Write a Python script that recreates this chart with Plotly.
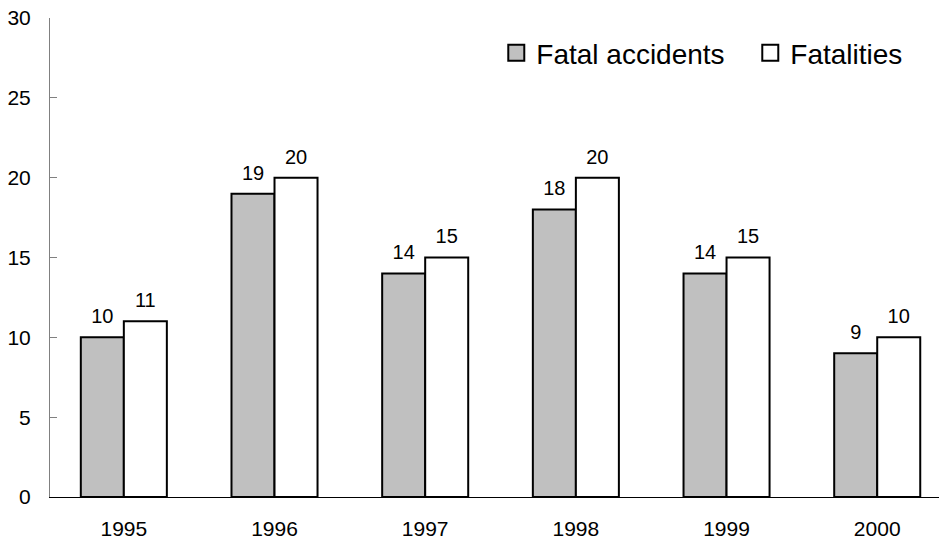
import plotly.graph_objects as go

years = ["1995", "1996", "1997", "1998", "1999", "2000"]
fatal_accidents = [10, 19, 14, 18, 14, 9]
fatalities = [11, 20, 15, 20, 15, 10]
y_ticks = [0, 5, 10, 15, 20, 25, 30]

font_name = "Liberation Sans, Arial, sans-serif"
series = [("Fatal accidents", fatal_accidents, "#c0c0c0", "a"),
          ("Fatalities", fatalities, "white", "b")]

fig = go.Figure()

for name, vals, col, grp in series:
    fig.add_trace(go.Bar(x=years, y=vals, name=name, offsetgroup=grp, alignmentgroup="g",
                         marker=dict(color=col, line=dict(color="black", width=2)),
                         showlegend=False))

# value labels sitting above the bars
for name, vals, col, grp in series:
    fig.add_trace(go.Scatter(x=years, y=vals, mode="markers+text", text=vals,
                             textposition="top center", offsetgroup=grp, alignmentgroup="g",
                             marker=dict(size=13, opacity=0), cliponaxis=False,
                             textfont=dict(size=20, color="black"), showlegend=False,
                             hoverinfo="skip"))

# legend entries with bigger square symbols
for name, vals, col, grp in series:
    fig.add_trace(go.Scatter(x=[None], y=[None], mode="markers", name=name,
                             offsetgroup=grp, alignmentgroup="g",
                             marker=dict(symbol="square", size=18, color=col,
                                         line=dict(color="black", width=2))))

fig.update_xaxes(showline=True, linewidth=1, linecolor="black", ticks="outside", ticklen=13,
                 tickcolor="rgba(0,0,0,0)", tickfont=dict(size=21, color="black"),
                 range=[-0.49, 5.41], showgrid=False)
fig.update_yaxes(range=[0, 30], tickvals=y_ticks, showline=True, linewidth=1, linecolor="#808080",
                 ticks="inside", ticklen=7, tickcolor="#808080", tickfont=dict(size=21, color="black"),
                 showgrid=False, zeroline=False, ticklabelstandoff=14)

fig.update_layout(width=939, height=539, margin=dict(l=50, r=0, t=18, b=42, autoexpand=False),
                  plot_bgcolor="white", paper_bgcolor="white",
                  font=dict(family=font_name, color="black"),
                  barmode="group", bargap=0.429, bargroupgap=0,
                  scattermode="group", scattergap=0.429,
                  legend=dict(orientation="h", x=0.502, xanchor="left", y=0.927, yanchor="middle",
                              font=dict(size=28), bgcolor="rgba(0,0,0,0)", entrywidth=209))

fig.write_html("out.html", config={"displayModeBar": False},
               post_script="document.body.style.margin='0px';")
